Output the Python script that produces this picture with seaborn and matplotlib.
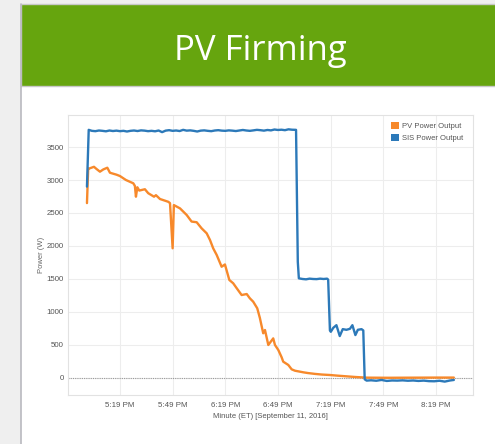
import matplotlib
matplotlib.use("Agg")
import matplotlib.pyplot as plt
from matplotlib.patches import Rectangle, Patch
from matplotlib.lines import Line2D
import seaborn as sns
import pandas as pd

# ---- data (minutes after 5:00 PM, power in W) ----
start = pd.Timestamp("2016-09-11 17:00")

pv_min = [0.2, 0.9, 1.6, 4.2, 5.5, 7.6, 9.5, 11.8, 13.3, 17.1, 19, 22.4, 26.6, 27.5,
          28.1, 28.9, 30, 33.2, 35.1, 38.4, 39.5, 41.8, 46.5, 47.5, 49, 49.7, 53.2,
          55.1, 57, 59.8, 62.7, 65.5, 68.4, 70.3, 72.1, 74.1, 76.9, 78.8, 81.3, 83.5,
          85.5, 88.3, 91.2, 93, 94.9, 97.2, 98.7, 100.6, 101.6, 103.5, 106.3, 107.3,
          109.2, 111.1, 112, 114.9, 116.8, 118.7, 123.4, 126, 130, 134, 138.6, 143,
          148, 153, 159.5, 165, 172, 180, 190, 200, 209.2]
pv_w = [2650, 3177, 3175, 3200, 3170, 3126, 3160, 3186, 3110, 3080, 3060, 3000, 2950, 2910,
        2747, 2890, 2840, 2860, 2800, 2747, 2770, 2712, 2670, 2650, 1965, 2620, 2570,
        2520, 2470, 2370, 2360, 2268, 2192, 2090, 1965, 1864, 1686, 1720, 1485, 1435,
        1360, 1257, 1272, 1207, 1156, 1056, 909, 677, 727, 500, 600, 500,
        424, 313, 247, 197, 131, 110, 86, 75, 62, 52, 45, 35,
        25, 15, 5, 4, 3, 4, 5, 6, 6]

sis_min = [0.2, 1.2, 3, 5, 7, 9, 11, 13, 15, 17, 19, 21, 23, 25, 27, 29, 31, 33, 35, 37,
           39, 41, 43, 45, 47, 49, 51, 53, 55, 57, 59, 61, 63, 65, 67, 69, 71, 73, 75,
           77, 79, 81, 83, 85, 87, 89, 91, 93, 95, 97, 99, 101, 103, 105, 107, 109, 111,
           113, 115, 117, 119.3, 120.3, 120.9, 123, 125, 127, 129, 131, 133, 135, 137,
           137.6, 138.6, 139.1, 140.5, 142.3, 144.2, 145.9, 148, 150, 151.4, 153.1, 154.5,
           156.6, 157.6, 158.4, 159.5, 162, 165, 168, 171, 174, 177, 180, 183, 186, 189,
           192, 195, 198, 201, 204, 207, 209.2]
sis_w = [2900, 3760, 3745, 3740, 3750, 3745, 3738, 3750, 3742, 3748, 3740, 3745, 3735, 3745,
         3750, 3742, 3752, 3748, 3740, 3745, 3738, 3750, 3725, 3748, 3755, 3745, 3750,
         3742, 3760, 3748, 3752, 3745, 3735, 3748, 3752, 3745, 3740, 3750, 3755, 3748,
         3745, 3752, 3748, 3742, 3750, 3758, 3750, 3745, 3752, 3760, 3755, 3748, 3758,
         3752, 3765, 3758, 3762, 3755, 3768, 3762, 3760, 1760, 1510, 1500, 1495, 1505,
         1500, 1498, 1505, 1500, 1505, 1490, 720, 700, 760, 800, 635, 740, 730, 745,
         800, 650, 730, 740, 720, -20, -40, -35, -42, -30, -45, -38, -40, -36,
         -42, -38, -45, -40, -48, -50, -42, -55, -38, -30]

series_names = ["PV Power Output", "SIS Power Output"]
series_colors = ["#F7892B", "#2C79B9"]

tick_labels = ["5:19 PM", "5:49 PM", "6:19 PM", "6:49 PM", "7:19 PM", "7:49 PM", "8:19 PM"]
y_ticks = [0, 500, 1000, 1500, 2000, 2500, 3000, 3500]

df = pd.concat([
    pd.DataFrame({"time": start + pd.to_timedelta(pv_min, unit="m"),
                  "power": pv_w, "series": series_names[0]}),
    pd.DataFrame({"time": start + pd.to_timedelta(sis_min, unit="m"),
                  "power": sis_w, "series": series_names[1]}),
])

sns.set_theme(style="white")
plt.rcParams["font.family"] = ["Liberation Sans", "DejaVu Sans"]

W, H = 495, 444
fig = plt.figure(figsize=(W / 100, H / 100), dpi=100, facecolor="#EFEFEF")


def px_rect(x0, y0, x1, y1, **kw):
    # rectangle in figure pixel coords (origin top-left)
    fig.patches.append(Rectangle((x0 / W, 1 - y1 / H), (x1 - x0) / W, (y1 - y0) / H,
                                 transform=fig.transFigure, figure=fig, zorder=-10, **kw))


# slide body and header
px_rect(21, 86, 496, 445, facecolor="white", edgecolor="none")
px_rect(21, 4, 496, 86, facecolor="#66A50E", edgecolor="#C8C8C8", linewidth=1)
fig.lines.append(Line2D([20.5 / W, 20.5 / W], [0, 1 - 4 / H], transform=fig.transFigure,
                        color="#B9B9BF", linewidth=1.2, zorder=-5))
fig.text(260 / W, 1 - 60 / H, "PV Firming", color="white", fontsize=25,
         family=["Open Sans", "DejaVu Sans"], ha="center", va="baseline")

ax = fig.add_axes([68 / W, 1 - 395 / H, (473 - 68) / W, (395 - 115) / H])
ax.set_facecolor("white")

sns.lineplot(data=df, x="time", y="power", hue="series", palette=series_colors,
             linewidth=1.7, ax=ax, legend=False, sort=False, estimator=None)

ax.axhline(0, color="#9A9A9A", linewidth=0.8, linestyle=(0, (1, 1)), zorder=1)

ax.set_xlim(start + pd.Timedelta(minutes=-10.6), start + pd.Timedelta(minutes=220.1))
ax.set_ylim(-258, 3985)
ax.set_xticks(pd.to_datetime(["2016-09-11 " + t for t in tick_labels], format="%Y-%m-%d %I:%M %p"))
ax.set_xticklabels(tick_labels)
ax.set_yticks(y_ticks)
ax.set_yticklabels([str(v) for v in y_ticks])

ax.grid(True, color="#EDEDED", linewidth=0.8)
ax.set_axisbelow(True)
for sp in ax.spines.values():
    sp.set_color("#E2E2E2")
    sp.set_linewidth(0.8)
ax.tick_params(axis="both", length=0, labelsize=5.7, labelcolor="#555555")
ax.tick_params(axis="x", pad=5)
ax.tick_params(axis="y", pad=3)

ax.set_xlabel("Minute (ET) [September 11, 2016]", fontsize=5.5, color="#555555", labelpad=3)
ax.set_ylabel("Power (W)", fontsize=5.5, color="#666666", labelpad=1)

handles = [Patch(facecolor=c, edgecolor="none") for c in series_colors]
ax.legend(handles, series_names, loc="upper left", bbox_to_anchor=(0.79, 0.985),
          frameon=False, fontsize=5.5, labelcolor="#555555", handlelength=1.0,
          handleheight=1.0, handletextpad=0.5, labelspacing=0.5, borderaxespad=0)

fig.savefig("out.png", dpi=100, facecolor=fig.get_facecolor())
